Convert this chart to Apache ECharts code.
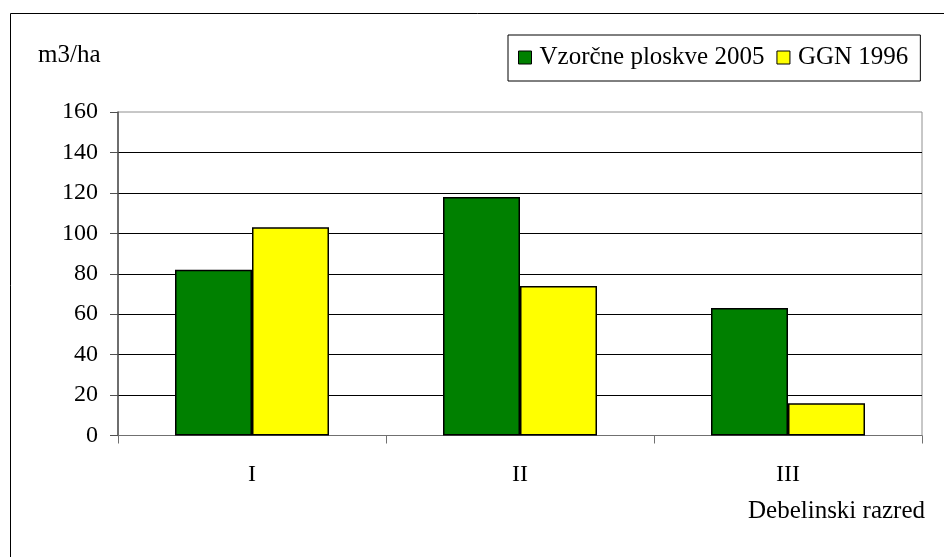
<!DOCTYPE html>
<html>
<head>
<meta charset="utf-8">
<title>Lesna zaloga po debelinskih razredih</title>
<script src="https://cdn.jsdelivr.net/npm/echarts@6/dist/echarts.min.js"></script>
<style>
  html, body { margin: 0; padding: 0; background: #fff; }
  #chart { width: 944px; height: 557px; }
</style>
</head>
<body>
<div id="chart"></div>
<script>
// Debelinski razredi (diameter classes)
const categories = ['I', 'II', 'III'];
// Growing stock, m3/ha
const vzorcnePloskve2005 = [82, 118, 63];
const ggn1996 = [103, 74, 16];
const yTicks = [0, 20, 40, 60, 80, 100, 120, 140, 160];

const FONT = '"Liberation Serif", "Times New Roman", serif';
const FS = 24;      // axis tick labels
const FS_TXT = 25;  // legend, unit and axis titles

const chart = echarts.init(document.getElementById('chart'), null, { renderer: 'canvas' });

chart.setOption({
  backgroundColor: '#fff',
  animation: false,
  textStyle: { fontFamily: FONT, color: '#000' },
  graphic: [
    {
      type: 'rect',
      shape: { x: 10.5, y: 13.5, width: 1200, height: 1200 },
      style: { fill: 'none', stroke: '#000', lineWidth: 1 },
      silent: true
    },
    {
      type: 'text',
      left: 38,
      top: 43,
      style: { text: 'm3/ha', fontFamily: FONT, fontSize: FS_TXT, fill: '#000' }
    },
    {
      type: 'text',
      right: 19,
      top: 499,
      style: { text: 'Debelinski razred', fontFamily: FONT, fontSize: FS_TXT, fill: '#000' }
    }
  ],
  legend: {
    left: 508,
    top: 35,
    padding: [10, 12, 11, 10],
    borderColor: '#000',
    borderWidth: 1,
    backgroundColor: '#fff',
    itemWidth: 13,
    itemHeight: 13,
    itemGap: 12,
    icon: 'rect',
    itemStyle: { borderColor: '#000', borderWidth: 1 },
    textStyle: { fontFamily: FONT, fontSize: FS_TXT, color: '#000', padding: [0, 0, 0, 3] },
    data: ['Vzorčne ploskve 2005', 'GGN 1996']
  },
  grid: {
    left: 118,
    top: 112,
    right: 22,
    bottom: 121.5,
    show: true,
    borderColor: '#909090',
    borderWidth: 1,
    containLabel: false
  },
  xAxis: {
    type: 'category',
    data: categories,
    boundaryGap: true,
    axisLine: { show: true, lineStyle: { color: '#707070', width: 1 } },
    axisTick: { show: true, length: 8, inside: false, alignWithLabel: false, lineStyle: { color: '#707070' } },
    axisLabel: { fontFamily: FONT, fontSize: FS, color: '#000', margin: 27 },
    splitLine: { show: false }
  },
  yAxis: {
    type: 'value',
    min: yTicks[0],
    max: yTicks[yTicks.length - 1],
    interval: yTicks[1] - yTicks[0],
    axisLine: { show: true, lineStyle: { color: '#505050', width: 1.5 } },
    axisTick: { show: true, length: 8, inside: false, lineStyle: { color: '#505050' } },
    axisLabel: { fontFamily: FONT, fontSize: FS, color: '#000', margin: 20 },
    splitLine: { show: true, showMinLine: false, showMaxLine: false, lineStyle: { color: '#000', width: 1 } }
  },
  series: [
    {
      name: 'Vzorčne ploskve 2005',
      type: 'bar',
      data: vzorcnePloskve2005,
      barWidth: 77,
      barGap: '0%',
      itemStyle: { color: '#008000', borderColor: '#000', borderWidth: 1.5 }
    },
    {
      name: 'GGN 1996',
      type: 'bar',
      data: ggn1996,
      barWidth: 77,
      barGap: '0%',
      itemStyle: { color: '#ffff00', borderColor: '#000', borderWidth: 1.5 }
    }
  ]
});
</script>
</body>
</html>
